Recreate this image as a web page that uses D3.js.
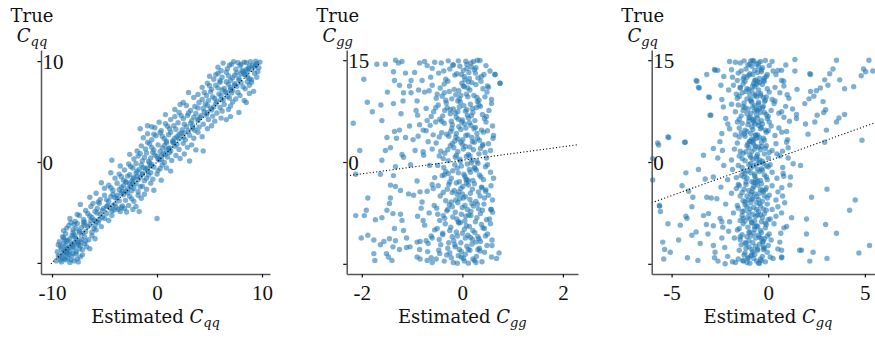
<!DOCTYPE html>
<html>
<head>
<meta charset="utf-8">
<title>Estimated vs true coefficients</title>
<script src="https://cdn.jsdelivr.net/npm/d3@7"></script>
<style>
  body { margin: 0; background: #fff; }
</style>
</head>
<body>
<div id="container"></div>
<script>
// Estimated vs true C_qq: [estimated, true]
const qqPoints = [
  [-9.6,-9.8],[-9.1,-9.9],[-8.7,-9.7],[-8.3,-9.95],[-7.9,-9.8],[-7.6,-9.6],[-9.3,-9.4],[-8.9,-9.2],[-8.5,-9.5],[-8.1,-9.3],[-7.7,-9.1],[-7.3,-9.4],[-9.0,-9.0],[-8.6,-9.1],[-8.2,-9.7],[-9.4,-9.3],[-7.5,-9.9],[-8.0,-9.05],[-8.8,-9.6],[-7.1,-9.2],[-9.2,-9.7],[-8.4,-9.2],
  [-9.5,-8.9],[-9.1,-8.6],[-8.7,-8.3],[-8.3,-8.8],[-7.9,-8.5],[-7.5,-8.2],[-7.1,-8.7],[-6.7,-8.4],[-8.9,-8.1],[-8.5,-8.95],[-8.1,-8.1],[-7.7,-8.9],[-7.3,-8.3],[-9.2,-8.4],[-8.6,-8.6],[-8.0,-8.4],[-7.4,-8.6],[-6.9,-8.1],[-9.4,-8.2],[-8.8,-8.75],[-8.2,-8.25],[-7.6,-8.05],[-6.4,-8.6],[-8.4,-8.5],
  [-9.3,-7.9],[-8.9,-7.5],[-8.5,-7.8],[-8.1,-7.3],[-7.7,-7.6],[-7.3,-7.9],[-6.9,-7.4],[-6.5,-7.7],[-8.7,-7.1],[-8.3,-7.6],[-7.9,-7.2],[-7.5,-7.95],[-7.1,-7.05],[-6.2,-7.3],[-9.0,-7.4],[-8.6,-7.85],[-7.8,-7.45],[-7.2,-7.65],[-6.8,-7.85],[-5.9,-7.6],[-8.0,-7.0],[-8.8,-7.7],
  [-8.9,-6.8],[-8.4,-6.3],[-8.0,-6.7],[-7.6,-6.1],[-7.2,-6.5],[-6.8,-6.9],[-6.4,-6.2],[-6.0,-6.6],[-5.6,-6.0],[-7.9,-6.2],[-7.4,-6.85],[-6.6,-6.4],[-6.2,-6.95],[-8.6,-6.55],[-7.0,-6.05],[-5.8,-6.75],[-8.2,-6.0],[-6.9,-6.3],[-5.3,-6.4],[-7.7,-6.6],
  [-8.3,-5.6],[-7.8,-5.9],[-7.4,-5.3],[-7.0,-5.7],[-6.6,-5.1],[-6.2,-5.5],[-5.8,-5.9],[-5.4,-5.2],[-5.0,-5.6],[-4.6,-5.8],[-6.9,-5.95],[-6.4,-5.35],[-5.7,-5.05],[-5.2,-5.45],[-4.3,-5.3],[-7.6,-5.2],[-6.0,-5.75],[-4.8,-5.1],[0.0,-5.6],[-5.5,-5.7],
  [-7.3,-4.2],[-6.8,-4.8],[-6.3,-4.4],[-5.9,-4.9],[-5.5,-4.1],[-5.1,-4.6],[-4.7,-4.3],[-4.3,-4.85],[-3.9,-4.5],[-3.5,-4.9],[-3.1,-4.6],[-2.7,-4.3],[-2.3,-4.7],[-4.0,-4.15],[-3.7,-4.7],[-3.3,-4.35],[-2.9,-4.95],[-4.5,-4.55],[-5.7,-4.6],[-6.1,-4.1],[-2.0,-4.4],[-3.4,-4.5],[-4.1,-4.75],[-1.7,-4.9],
  [-6.4,-3.5],[-5.8,-3.1],[-5.4,-3.7],[-5.0,-3.3],[-4.6,-3.9],[-4.2,-3.2],[-3.8,-3.6],[-3.4,-3.1],[-3.0,-3.8],[-2.6,-3.4],[-2.2,-3.9],[-1.8,-3.3],[-4.8,-3.75],[-4.4,-3.45],[-3.6,-3.85],[-3.2,-3.25],[-2.4,-3.65],[-5.6,-3.95],[-1.5,-3.6],[-2.8,-3.05],[-4.0,-3.55],[-1.2,-3.2],
  [-5.3,-2.05],[-5.0,-2.6],[-4.6,-2.3],[-4.2,-2.8],[-3.8,-2.1],[-3.4,-2.5],[-3.0,-2.9],[-2.6,-2.2],[-2.2,-2.6],[-1.8,-2.95],[-1.4,-2.4],[-1.0,-2.7],[-0.6,-2.1],[-3.6,-2.75],[-3.2,-2.35],[-2.8,-2.65],[-2.4,-2.85],[-2.0,-2.15],[-4.4,-2.55],[-1.6,-2.45],[-0.3,-2.8],[-2.5,-2.4],
  [-4.4,-1.06],[-4.0,-1.6],[-3.6,-1.2],[-3.2,-1.8],[-2.8,-1.4],[-2.4,-1.9],[-2.0,-1.1],[-1.6,-1.5],[-1.2,-1.85],[-0.8,-1.3],[-0.4,-1.7],[0.0,-1.2],[-3.0,-1.95],[-2.6,-1.25],[-2.2,-1.55],[-1.8,-1.75],[-1.4,-1.15],[-1.0,-1.6],[0.4,-1.8],[-3.4,-1.45],[-0.6,-1.05],[-2.3,-1.65],
  [-3.5,-0.4],[-3.1,-0.8],[-2.7,-0.2],[-2.3,-0.6],[-1.9,-0.9],[-1.5,-0.3],[-1.1,-0.7],[-0.7,-0.1],[-0.3,-0.5],[0.1,-0.85],[0.5,-0.3],[0.9,-0.6],[-2.5,-0.45],[-2.0,-0.15],[-1.3,-0.55],[-0.9,-0.95],[-0.5,-0.25],[0.3,-0.65],[1.3,-0.9],[-4.3,0.17],[-1.7,-0.75],[0.7,-0.05],
  [-2.6,0.76],[-2.2,0.3],[-1.8,0.6],[-1.4,0.1],[-1.0,0.9],[-0.6,0.4],[-0.2,0.7],[0.2,0.2],[0.6,0.85],[1.0,0.5],[1.4,0.15],[1.8,0.65],[2.2,0.35],[3.1,0.1],[-1.2,0.45],[-0.8,0.05],[-0.4,0.95],[0.0,0.55],[0.4,0.25],[0.8,0.75],[1.2,0.95],[2.6,0.8],[-1.6,0.85],
  [-1.9,1.1],[-1.5,1.6],[-1.1,1.3],[-0.7,1.8],[-0.3,1.2],[0.1,1.7],[0.5,1.4],[0.9,1.9],[1.3,1.1],[1.7,1.55],[2.1,1.25],[2.5,1.85],[2.9,1.45],[3.3,1.7],[4.4,1.1],[-0.9,1.95],[-0.5,1.45],[0.3,1.05],[0.7,1.65],[1.1,1.35],[1.5,1.95],[1.9,1.75],[3.7,1.2],
  [-1.3,2.4],[-0.9,2.8],[-0.5,2.2],[-0.1,2.6],[0.3,2.9],[0.7,2.3],[1.1,2.7],[1.5,2.1],[1.9,2.5],[2.3,2.85],[2.7,2.2],[3.1,2.65],[3.5,2.35],[3.9,2.95],[4.3,2.5],[0.5,2.55],[0.9,2.05],[1.3,2.95],[1.7,2.35],[2.1,2.75],[2.5,2.45],[-0.3,2.75],
  [-1.6,3.3],[-0.9,3.6],[-0.2,3.4],[0.4,3.1],[0.8,3.8],[1.2,3.3],[1.6,3.6],[2.0,3.9],[2.4,3.2],[2.8,3.5],[3.2,3.85],[3.6,3.15],[4.0,3.45],[4.4,3.75],[4.8,3.3],[5.2,3.6],[1.0,3.55],[1.8,3.25],[2.6,3.75],[3.4,3.35],[0.2,3.95],[-0.5,3.5],
  [1.3,4.2],[0.8,4.7],[1.7,4.5],[2.1,4.9],[2.5,4.3],[2.9,4.6],[3.3,4.1],[3.7,4.8],[4.1,4.4],[4.5,4.95],[4.9,4.2],[5.3,4.55],[5.7,4.85],[6.1,4.35],[6.6,4.2],[7.0,4.5],[3.0,4.85],[3.9,4.25],[4.7,4.65],[2.3,4.6],[3.5,4.45],[5.5,4.05],
  [1.7,5.2],[2.2,5.7],[2.8,5.6],[3.2,5.1],[3.6,5.5],[4.0,5.9],[4.4,5.3],[4.8,5.6],[5.2,5.15],[5.6,5.8],[6.0,5.4],[6.4,5.7],[6.8,5.2],[7.2,5.95],[7.8,4.9],[8.5,5.9],[3.9,5.35],[4.6,5.75],[5.4,5.45],[6.2,5.05],[2.5,5.9],[7.0,5.55],
  [3.5,6.4],[3.0,6.9],[3.9,6.7],[4.3,6.2],[4.7,6.6],[5.1,6.95],[5.5,6.3],[5.9,6.75],[6.3,6.15],[6.7,6.5],[7.1,6.85],[7.5,6.25],[7.9,6.6],[8.3,6.1],[8.8,6.8],[4.5,6.9],[5.3,6.45],[6.1,6.6],[6.9,6.35],[7.7,6.9],[4.9,6.1],[6.5,6.95],
  [4.3,7.4],[4.8,7.8],[5.2,7.2],[5.6,7.6],[6.0,7.9],[6.4,7.3],[6.8,7.7],[7.2,7.1],[7.6,7.5],[8.0,7.85],[8.4,7.25],[8.8,7.6],[9.2,7.0],[5.8,7.35],[6.6,7.95],[7.4,7.75],[8.2,7.45],[5.0,7.55],[9.0,7.9],[7.0,7.4],[6.2,7.15],[8.6,7.95],
  [5.0,8.5],[5.4,8.2],[5.8,8.8],[6.2,8.4],[6.6,8.9],[7.0,8.1],[7.4,8.6],[7.8,8.3],[8.2,8.95],[8.6,8.45],[9.0,8.15],[9.5,8.4],[9.3,8.8],[6.8,8.55],[7.6,8.85],[8.4,8.65],[6.0,8.05],[7.2,8.35],[8.0,8.75],[8.8,8.25],[5.6,8.65],[9.6,8.95],
  [5.8,9.4],[6.3,9.8],[7.1,9.7],[7.5,9.2],[7.9,9.55],[8.3,9.9],[8.5,9.85],[8.7,9.3],[9.1,9.6],[9.5,9.75],[9.8,9.9],[6.7,9.25],[7.3,9.95],[8.1,9.1],[8.9,9.95],[9.3,9.45],[6.9,9.6],[7.7,9.85],[8.5,9.15],[9.7,9.35],[6.1,9.05],[8.0,9.7],[8.8,9.5],[9.4,9.98],
  [-8.7,-8.9],[-7.9,-8.0],[-6.3,-5.8],[-5.2,-4.8],[-4.2,-4.3],[-3.3,-2.9],[-2.3,-2.1],[-1.4,-1.2],[-0.6,-0.4],[0.4,0.6],[1.2,1.4],[2.1,2.3],[3.0,3.1],[3.9,4.1],[4.8,4.9],[5.7,6.0],[6.6,6.9],[7.4,7.6],[8.3,8.7],[9.0,9.2],
  [-9.0,-9.5],[-7.4,-7.0],[-5.9,-6.3],[-4.8,-4.4],[-3.8,-3.3],[-2.9,-2.0],[-1.9,-1.4],[-0.9,-0.6],[0.1,0.3],[0.9,1.2],[1.6,1.9],[2.6,2.9],[3.4,3.6],[4.2,4.6],[5.1,5.3],[6.1,6.2],[7.0,7.2],[7.8,8.1],[8.6,9.0],[9.4,9.6]
];

// Estimated vs true C_gg: [estimated, true]
const ggPoints = [
  [-0.42,14.6],[0.13,13.2],[-0.08,14.9],[0.31,12.4],[-0.25,13.7],[0.05,12.1],[0.47,14.2],[-0.15,12.8],[0.22,14.8],[-0.55,14.7],[0.02,13.5],[0.38,12.6],[-0.33,12.2],[0.18,14.0],[-0.02,12.9],[0.27,13.9],[-0.47,13.1],[0.09,14.4],[0.55,13.4],[-0.19,14.3],[0.35,14.95],[-0.11,13.0],[0.14,12.3],[-0.63,12.5],[0.24,13.6],[-0.05,14.1],[0.43,12.9],[-0.28,14.9],[0.07,14.85],[0.65,12.9],[-0.37,13.4],[0.17,14.6],[-0.75,14.8],[-0.85,14.6],[0.3,15.0],[-0.6,13.8],
  [0.19,11.7],[-0.36,10.2],[0.04,11.1],[-0.52,9.4],[0.41,10.8],[-0.13,9.9],[0.27,11.4],[-0.07,10.5],[0.58,9.2],[-0.29,11.9],[0.11,9.6],[-0.44,10.9],[0.33,9.1],[-0.01,11.6],[0.49,10.3],[-0.21,9.3],[0.08,10.0],[-0.6,11.3],[0.23,9.8],[-0.16,10.7],[0.37,11.9],[-0.09,9.0],[0.15,10.6],[-0.4,9.7],[0.02,11.2],[0.52,11.0],[-0.26,10.4],[0.29,9.5],[-0.03,9.8],[0.45,9.6],[-0.5,10.0],[0.12,11.8],[0.75,11.6],
  [-0.32,8.7],[0.21,7.3],[-0.06,8.1],[0.44,6.4],[-0.18,7.8],[0.1,6.9],[-0.48,8.4],[0.3,8.9],[0.0,6.2],[-0.24,7.1],[0.53,7.6],[-0.12,6.6],[0.16,8.5],[-0.39,6.8],[0.06,7.5],[0.36,8.2],[-0.57,7.4],[0.25,6.1],[-0.04,8.8],[0.12,6.5],[-0.3,8.0],[0.48,6.7],[-0.14,7.2],[0.2,7.9],[-0.45,6.3],[0.03,8.3],[0.4,7.0],[-0.22,6.0],[0.09,7.7],[-0.08,6.3],[0.58,8.6],[-0.35,7.6],[0.28,8.0],
  [0.14,5.8],[-0.41,4.3],[0.26,5.1],[-0.09,3.4],[0.5,4.6],[-0.2,5.5],[0.07,3.9],[-0.53,5.9],[0.34,3.2],[-0.03,4.8],[0.19,3.6],[-0.31,4.1],[0.6,5.3],[-0.15,3.1],[0.04,5.6],[0.42,4.4],[-0.46,3.7],[0.23,4.9],[-0.07,5.2],[0.11,4.0],[-0.36,5.7],[0.3,3.5],[-0.23,4.5],[0.01,3.3],[0.47,5.9],[-0.12,4.2],[0.17,5.4],[-0.58,4.0],[0.38,4.7],[-0.01,5.9],[0.62,3.9],[-0.27,3.8],
  [-0.2,2.7],[0.33,1.2],[-0.05,0.4],[0.15,2.2],[-0.43,1.6],[0.48,0.6],[0.02,1.9],[-0.28,0.2],[0.24,2.9],[-0.12,1.0],[0.4,2.4],[-0.52,2.8],[0.08,0.8],[-0.17,2.1],[0.29,0.1],[-0.35,1.3],[0.56,1.7],[0.0,2.6],[-0.09,1.5],[0.19,0.3],[-0.46,0.9],[0.36,2.0],[-0.24,2.4],[0.12,1.1],[-0.03,2.95],[0.45,1.4],[-0.38,0.5],[0.22,1.8],[-0.14,0.7],[0.06,2.3],[0.52,2.7],[-0.6,1.9],
  [0.1,-0.3],[-0.33,-1.4],[0.37,-2.2],[-0.1,-0.9],[0.21,-2.7],[-0.49,-0.5],[0.03,-1.8],[0.46,-0.7],[-0.22,-2.4],[0.14,-1.1],[-0.06,-2.9],[0.31,-0.2],[-0.4,-2.0],[0.56,-1.5],[-0.15,-0.4],[0.07,-2.5],[-0.28,-1.7],[0.25,-1.0],[-0.02,-0.6],[0.42,-2.6],[-0.55,-2.3],[0.18,-0.1],[-0.19,-1.3],[0.05,-2.1],[0.34,-1.9],[-0.37,-0.8],[0.12,-2.8],[-0.08,-1.6],[0.5,-0.4],[-0.25,-2.95],[0.62,-2.4],[0.28,-1.2],
  [-0.27,-3.3],[0.16,-4.6],[-0.05,-5.4],[0.39,-3.8],[-0.44,-5.0],[0.08,-3.1],[0.27,-5.8],[-0.16,-4.2],[0.52,-4.9],[-0.33,-5.7],[0.01,-3.6],[0.2,-4.0],[-0.58,-3.9],[0.44,-5.3],[-0.1,-4.8],[0.12,-3.4],[-0.22,-5.9],[0.32,-4.4],[-0.03,-3.9],[0.57,-3.5],[-0.38,-4.5],[0.06,-5.1],[0.24,-3.2],[-0.13,-5.6],[0.47,-4.1],[-0.48,-3.5],[0.15,-5.5],[-0.07,-4.4],[0.35,-5.0],[-0.3,-4.0],[0.6,-5.6],[0.0,-4.7],
  [0.22,-6.5],[-0.38,-7.9],[0.05,-8.7],[0.43,-6.2],[-0.14,-7.4],[0.29,-8.2],[-0.51,-6.8],[0.1,-7.0],[-0.04,-8.9],[0.36,-7.6],[-0.26,-6.3],[0.54,-8.4],[0.0,-6.7],[-0.19,-8.1],[0.17,-7.3],[-0.45,-8.6],[0.4,-7.1],[-0.09,-6.0],[0.26,-8.8],[-0.31,-7.2],[0.07,-8.0],[0.57,-7.0],[-0.2,-6.6],[0.13,-7.8],[-0.56,-6.4],[0.32,-6.9],[-0.02,-7.7],[0.48,-8.5],[-0.35,-8.3],[0.19,-6.1],[0.6,-7.4],[-0.11,-8.4],
  [-0.23,-9.6],[0.11,-10.8],[0.38,-9.2],[-0.46,-11.4],[0.04,-9.9],[0.27,-11.8],[-0.12,-10.3],[0.5,-10.6],[-0.34,-9.1],[0.16,-11.1],[-0.03,-11.9],[0.41,-9.7],[-0.55,-10.0],[0.21,-10.1],[-0.17,-11.6],[0.08,-9.4],[0.33,-11.3],[-0.39,-10.7],[0.0,-10.5],[0.59,-11.5],[-0.27,-11.9],[0.14,-9.5],[-0.07,-9.0],[0.46,-10.9],[-0.5,-9.8],[0.25,-10.4],[-0.2,-11.0],[0.36,-11.7],[0.06,-11.2],[-0.6,-11.2],[0.56,-9.1],[-0.1,-10.9],
  [0.09,-12.4],[-0.31,-13.7],[0.24,-14.5],[-0.06,-12.9],[0.44,-13.3],[-0.18,-14.8],[0.15,-13.0],[-0.43,-12.2],[0.02,-14.2],[0.34,-12.7],[-0.25,-13.4],[0.58,-14.0],[-0.1,-14.9],[0.19,-12.1],[-0.52,-14.3],[0.06,-13.6],[0.39,-14.7],[-0.14,-12.5],[0.28,-13.9],[-0.36,-14.6],[-0.02,-13.2],[0.49,-12.3],[-0.22,-14.1],[0.12,-14.9],[-0.47,-13.0],[0.31,-12.9],[-0.08,-13.8],[0.21,-14.3],[-0.29,-12.7],[0.04,-14.6],[0.68,-14.2],[-0.6,-14.8],
  [-0.18,14.3],[0.26,13.1],[0.04,12.6],[-0.36,11.5],[0.11,10.9],[-0.06,9.3],[0.33,8.4],[-0.24,7.7],[0.18,6.8],[-0.41,6.0],[0.07,5.0],[0.29,4.2],[-0.13,3.7],[0.41,2.6],[-0.29,1.8],[0.15,0.9],[-0.04,0.1],[0.24,-0.8],[-0.36,-1.9],[0.09,-2.6],[0.38,-3.7],[-0.2,-4.5],[0.02,-5.3],[0.3,-6.2],[-0.29,-7.0],[0.17,-7.9],[-0.08,-8.8],[0.44,-9.8],[-0.39,-10.5],[0.2,-11.4],[-0.15,-12.2],[0.35,-13.1],[-0.02,-14.0],[0.27,-14.8],[-0.45,-13.5],[0.12,-12.9],[-0.25,-10.1],[0.05,-6.4],[-0.12,-3.1],[0.2,3.0],[-0.33,9.1],[0.09,13.8],[0.5,11.2],[-0.53,8.0],[0.46,-4.3],[-0.49,-7.7],[0.31,-11.0],[-0.09,7.4],[0.16,-1.5],[-0.21,4.9],
  [-0.7,14.2],[-0.8,12.0],[-0.66,10.5],[-0.9,9.0],[-0.72,7.9],[-0.62,6.7],[-0.85,5.5],[-0.68,3.0],[-0.78,1.5],[-0.65,-0.5],[-0.9,-2.8],[-0.7,-4.3],[-0.8,-5.9],[-0.66,-7.5],[-0.75,-9.3],[-0.62,-10.9],[-0.85,-12.9],[-0.7,-14.5],[-0.95,13.2],[-0.72,4.6],[-0.6,-3.3],[-0.82,-6.8],[-0.68,-12.0],[-0.9,-14.0],
  [0.75,11.6],[0.65,12.9],[0.61,3.5],[0.73,-13.4],[0.57,-7.0],[0.59,-12.3],
  [-1.70,14.4],[-1.53,14.4],[-1.33,15.0],[-1.27,14.6],[-1.2,14.8],[-1.37,13.3],[-1.13,13.1],[-1.96,12.2],[-1.35,12.0],[-1.02,12.0],[-1.05,11.2],[-1.25,11.3],[-1.49,10.3],[-1.17,10.2],[-1.02,10.2],[-0.87,10.6],[-0.75,10.3],[-1.89,8.8],[-1.62,8.4],[-1.37,8.6],[-1.18,9.0],[-1.79,7.4],[-1.60,6.1],[-1.22,7.1],[-0.92,7.6],[-0.89,6.9],[-2.17,5.7],[-1.35,4.5],[-1.25,4.7],[-1.05,5.3],[-1.13,3.6],[-1.31,3.5],[-1.50,3.6],[-0.98,3.3],[-1.43,2.1],[-1.53,1.7],[-1.20,1.1],[-1.17,0.7],[-1.60,0.25],[-2.04,1.7],[-0.94,1.7],[-0.77,1.0],[-0.88,3.8],[-0.78,4.7],[-0.64,5.4],[-0.7,6.1],
  [-2.12,-1.8],[-1.63,-1.8],[-1.37,-2.0],[-1.33,-0.7],[-1.03,-0.4],[-1.43,-3.4],[-1.33,-3.6],[-1.23,-4.2],[-1.88,-5.3],[-1.43,-5.3],[-1.45,-6.1],[-1.50,-7.1],[-1.07,-4.7],[-0.97,-4.9],[-0.84,-4.4],[-2.12,-7.9],[-1.91,-7.1],[-1.95,-7.9],[-1.73,-8.5],[-1.60,-8.2],[-1.38,-7.6],[-1.23,-7.7],[-1.20,-8.6],[-0.89,-8.0],[-0.78,-8.6],[-1.35,-9.8],[-1.17,-10.1],[-2.01,-11.2],[-1.88,-10.8],[-1.76,-11.5],[-1.56,-11.7],[-1.45,-11.3],[-1.33,-11.6],[-1.11,-11.2],[-1.04,-12.5],[-0.90,-11.8],[-0.84,-11.7],[-0.72,-11.6],[-1.76,-13.5],[-1.63,-12.2],[-1.51,-13.5],[-1.47,-14.0],[-1.40,-14.5],[-1.74,-14.5],[-1.25,-12.9],[-1.11,-12.6],[-0.84,-14.3],[-0.69,-13.2],[-0.62,-14.1],[-1.38,-12.5]
];

// Estimated vs true C_gq: [estimated, true]
const gqPoints = [
  [-1.45,14.6],[-0.55,13.2],[-0.9,14.9],[-0.2,12.4],[-1.15,13.7],[-0.65,12.1],[0.05,14.2],[-1.0,12.8],[-0.4,14.8],[-1.7,14.7],[-0.7,13.5],[-0.1,12.6],[-1.3,12.2],[-0.5,14.0],[-0.8,12.9],[-0.3,13.9],[-1.55,13.1],[-0.6,14.4],[0.25,13.4],[-1.05,14.3],[-0.15,14.95],[-0.95,13.0],[-0.45,12.3],[-1.85,12.5],[-0.35,13.6],[-0.85,14.1],[-0.05,12.9],[-1.25,14.9],[-0.75,14.85],[0.4,12.9],[-1.4,13.4],[-0.5,14.6],[-2.0,14.8],[-1.9,13.6],[0.2,14.8],[-1.6,12.0],[-1.1,12.5],[-0.25,12.0],
  [-0.45,11.7],[-1.35,10.2],[-0.7,11.1],[-1.6,9.4],[-0.05,10.8],[-0.95,9.9],[-0.3,11.4],[-0.85,10.5],[0.2,9.2],[-1.2,11.9],[-0.6,9.6],[-1.45,10.9],[-0.15,9.1],[-0.75,11.6],[0.05,10.3],[-1.1,9.3],[-0.65,10.0],[-1.8,11.3],[-0.4,9.8],[-1.0,10.7],[-0.2,11.9],[-0.9,9.0],[-0.5,10.6],[-1.5,9.7],[-0.8,11.2],[0.35,11.0],[-1.15,10.4],[-0.25,9.5],[-0.7,9.8],[-0.1,9.6],[-1.65,10.0],[-0.55,11.8],[0.6,10.2],[-2.05,10.6],[-1.3,11.5],
  [-1.25,8.7],[-0.4,7.3],[-0.8,8.1],[-0.05,6.4],[-1.05,7.8],[-0.6,6.9],[-1.55,8.4],[-0.2,8.9],[-0.75,6.2],[-1.1,7.1],[0.15,7.6],[-0.95,6.6],[-0.5,8.5],[-1.4,6.8],[-0.7,7.5],[-0.25,8.2],[-1.7,7.4],[-0.35,6.1],[-0.85,8.8],[-0.55,6.5],[-1.2,8.0],[0.0,6.7],[-0.9,7.2],[-0.45,7.9],[-1.5,6.3],[-0.7,8.3],[-0.1,7.0],[-1.0,6.0],[-0.6,7.7],[-0.8,6.3],[0.3,8.6],[-1.3,7.6],[-0.3,8.0],[-1.9,8.5],[0.55,7.2],
  [-0.5,5.8],[-1.4,4.3],[-0.35,5.1],[-0.85,3.4],[0.0,4.6],[-1.05,5.5],[-0.65,3.9],[-1.6,5.9],[-0.2,3.2],[-0.8,4.8],[-0.45,3.6],[-1.25,4.1],[0.15,5.3],[-0.95,3.1],[-0.7,5.6],[-0.1,4.4],[-1.5,3.7],[-0.4,4.9],[-0.85,5.2],[-0.55,4.0],[-1.35,5.7],[-0.25,3.5],[-1.1,4.5],[-0.75,3.3],[0.05,5.9],[-0.9,4.2],[-0.5,5.4],[-1.7,4.0],[-0.15,4.7],[-0.75,5.9],[0.35,3.9],[-1.2,3.8],[-2.0,4.9],[0.7,4.4],
  [-1.05,2.7],[-0.2,1.2],[-0.8,0.4],[-0.5,2.2],[-1.45,1.6],[0.0,0.6],[-0.7,1.9],[-1.2,0.2],[-0.35,2.9],[-0.95,1.0],[-0.1,2.4],[-1.6,2.8],[-0.6,0.8],[-1.0,2.1],[-0.3,0.1],[-1.3,1.3],[0.2,1.7],[-0.75,2.6],[-0.85,1.5],[-0.45,0.3],[-1.5,0.9],[-0.15,2.0],[-1.1,2.4],[-0.55,1.1],[-0.8,2.95],[0.05,1.4],[-1.35,0.5],[-0.4,1.8],[-0.9,0.7],[-0.65,2.3],[0.4,2.7],[-1.75,1.9],[-1.9,0.3],[0.6,0.9],
  [-0.6,-0.3],[-1.3,-1.4],[-0.1,-2.2],[-0.9,-0.9],[-0.4,-2.7],[-1.55,-0.5],[-0.7,-1.8],[0.0,-0.7],[-1.1,-2.4],[-0.55,-1.1],[-0.85,-2.9],[-0.25,-0.2],[-1.4,-2.0],[0.2,-1.5],[-1.0,-0.4],[-0.65,-2.5],[-1.2,-1.7],[-0.35,-1.0],[-0.75,-0.6],[-0.05,-2.6],[-1.65,-2.3],[-0.45,-0.1],[-1.05,-1.3],[-0.7,-2.1],[-0.2,-1.9],[-1.35,-0.8],[-0.55,-2.8],[-0.9,-1.6],[0.1,-0.4],[-1.15,-2.95],[0.45,-2.4],[-0.3,-1.2],[-1.85,-1.1],[-2.1,-2.6],
  [-1.15,-3.3],[-0.45,-4.6],[-0.8,-5.4],[-0.1,-3.8],[-1.45,-5.0],[-0.65,-3.1],[-0.3,-5.8],[-1.0,-4.2],[0.05,-4.9],[-1.3,-5.7],[-0.75,-3.6],[-0.4,-4.0],[-1.65,-3.9],[-0.05,-5.3],[-0.9,-4.8],[-0.55,-3.4],[-1.2,-5.9],[-0.25,-4.4],[-0.8,-3.9],[0.2,-3.5],[-1.35,-4.5],[-0.6,-5.1],[-0.35,-3.2],[-1.05,-5.6],[-0.15,-4.1],[-1.5,-3.5],[-0.5,-5.5],[-0.85,-4.4],[-0.2,-5.0],[-1.25,-4.0],[0.4,-5.6],[-0.7,-4.7],[-1.9,-4.6],[0.7,-3.8],
  [-0.4,-6.5],[-1.35,-7.9],[-0.7,-8.7],[-0.05,-6.2],[-1.0,-7.4],[-0.3,-8.2],[-1.55,-6.8],[-0.6,-7.0],[-0.85,-8.9],[-0.2,-7.6],[-1.2,-6.3],[0.1,-8.4],[-0.75,-6.7],[-1.05,-8.1],[-0.5,-7.3],[-1.45,-8.6],[-0.1,-7.1],[-0.9,-6.0],[-0.35,-8.8],[-1.25,-7.2],[-0.65,-8.0],[0.2,-7.0],[-1.1,-6.6],[-0.55,-7.8],[-1.6,-6.4],[-0.25,-6.9],[-0.8,-7.7],[0.0,-8.5],[-1.3,-8.3],[-0.45,-6.1],[-1.8,-7.5],[-0.95,-8.4],[0.5,-6.6],[-2.0,-8.8],
  [-1.05,-9.6],[-0.5,-10.8],[-0.1,-9.2],[-1.45,-11.4],[-0.7,-9.9],[-0.3,-11.8],[-0.95,-10.3],[0.05,-10.6],[-1.3,-9.1],[-0.45,-11.1],[-0.8,-11.9],[-0.15,-9.7],[-1.6,-10.0],[-0.4,-10.1],[-1.0,-11.6],[-0.6,-9.4],[-0.2,-11.3],[-1.35,-10.7],[-0.75,-10.5],[0.15,-11.5],[-1.2,-11.9],[-0.55,-9.5],[-0.85,-9.0],[-0.05,-10.9],[-1.5,-9.8],[-0.35,-10.4],[-1.1,-11.0],[-0.25,-11.7],[-0.65,-11.2],[-1.75,-11.2],[0.3,-9.1],[-0.9,-10.9],[-2.05,-10.2],[0.6,-11.8],
  [-0.65,-12.4],[-1.25,-13.7],[-0.35,-14.5],[-0.85,-12.9],[-0.05,-13.3],[-1.1,-14.8],[-0.55,-13.0],[-1.4,-12.2],[-0.75,-14.2],[-0.2,-12.7],[-1.2,-13.4],[0.1,-14.0],[-0.95,-14.9],[-0.45,-12.1],[-1.55,-14.3],[-0.7,-13.6],[-0.15,-14.7],[-1.0,-12.5],[-0.3,-13.9],[-1.3,-14.6],[-0.8,-13.2],[0.0,-12.3],[-1.05,-14.1],[-0.5,-14.9],[-1.5,-13.0],[-0.25,-12.9],[-0.9,-13.8],[-0.4,-14.3],[-1.15,-12.7],[-0.6,-14.6],[0.25,-14.2],[-1.7,-14.8],[-1.85,-14.7],[-2.1,-13.9],
  [-0.95,14.4],[-0.35,13.3],[-1.25,12.6],[-0.6,11.4],[-1.1,10.8],[-0.4,10.1],[-0.9,9.2],[-1.3,8.2],[-0.55,7.6],[-1.0,6.5],[-0.3,5.6],[-1.2,4.7],[-0.65,4.0],[-0.95,3.0],[-0.35,2.3],[-1.15,1.5],[-0.6,0.5],[-0.9,-0.2],[-0.45,-1.4],[-1.25,-2.2],[-0.75,-3.0],[-0.3,-4.2],[-1.1,-5.0],[-0.6,-6.0],[-0.95,-6.9],[-0.4,-7.8],[-1.2,-8.7],[-0.7,-9.5],[-1.0,-10.4],[-0.35,-11.3],[-1.15,-12.0],[-0.55,-12.8],[-0.85,-13.7],[-1.3,-14.5],[-0.45,-14.9],[-0.7,12.0],[-1.45,11.0],[-0.2,7.3],[-1.5,5.0],[-0.1,-0.6],[-1.55,-3.3],[-0.15,-9.0],[-1.45,-11.0],[-0.8,14.95],[-1.05,-14.2],[-0.6,3.5],[-0.85,-5.5],[-0.5,8.8],[-1.35,-7.3],[-0.25,-12.5],
  [0.5,13.5],[0.8,11.9],[0.35,9.0],[0.9,8.2],[0.55,5.0],[1.0,3.3],[0.45,1.2],[0.75,-0.8],[1.15,-2.2],[0.5,-4.4],[0.85,-6.0],[0.4,-8.0],[0.95,-9.5],[0.5,-12.8],[0.7,-14.0],[1.1,6.0],[0.65,-10.5],
  [-2.3,12.6],[-2.4,9.2],[-2.2,6.4],[-2.5,3.0],[-2.3,-0.5],[-2.45,-3.7],[-2.2,-6.2],[-2.35,-9.6],[-2.25,-12.6],[-2.6,-14.6],
  [1.38,15.1],[0.91,14.3],[0.69,13.5],[1.38,13.4],[3.53,15.0],[3.35,13.7],[3.18,13.0],[2.92,12.1],[3.70,12.1],[2.19,12.9],[5.21,15.0],[4.93,13.7],[5.04,13.3],[4.81,12.7],[5.41,13.4],[3.09,11.3],[2.70,10.9],[2.49,10.5],[2.19,10.4],[2.36,9.7],[2.11,9.3],[1.89,8.6],[2.84,8.9],[3.95,10.8],[4.42,11.1],[1.49,10.7],[0.81,11.2],[0.98,9.9],[1.07,9.4],[0.69,12.0],[1.26,7.8],[1.46,7.0],[1.46,6.4],[2.53,6.9],[2.97,7.7],[2.87,7.3],[3.66,6.5],[3.95,7.0],[3.53,5.9],[2.41,5.9],[1.93,5.6],[2.06,4.1],[3.01,4.7],[2.92,2.9],[4.85,3.2],[0.69,7.4],[0.81,6.6],[0.95,4.5],[0.95,2.9],[0.74,1.6],[1.03,2.1],[1.03,0.6],[1.29,-0.25],[1.67,-0.5],[0.77,-1.7],[0.8,-2.1],[1.12,-3.4],[3.04,-4.0],[2.24,-5.2],[0.74,-5.0],[4.5,-5.6],[4.21,-7.1],[0.69,-7.5],[1.21,-8.2],[1.98,-8.4],[2.97,-9.2],[0.81,-9.7],[3.53,-10.5],[1.98,-10.6],[5.24,-12.3],[4.69,-13.4],[1.63,-13.0],[1.72,-13.0],[2.32,-13.3],[2.15,-14.6],[3.04,-14.2],[0.69,-13.0],[0.69,-14.1],[2.15,13.0],
  [-2.78,13.65],[-2.61,13.5],[-3.18,12.9],[-3.73,12.0],[-3.61,11.0],[-2.45,11.3],[-3.09,9.6],[-2.97,6.9],[-4.33,2.9],[-5.15,3.6],[-5.72,2.8],[-5.98,0.5],[-5.98,-2.65],[-4.26,-1.6],[-3.61,-1.1],[-3.35,1.0],[-2.84,2.0],[-2.61,0.6],[-2.37,1.7],[-3.26,-2.5],[-2.84,-2.2],[-4.46,-3.5],[-4.12,-4.3],[-3.90,-5.2],[-3.18,-5.2],[-2.95,-5.3],[-2.66,-5.4],[-5.63,-6.4],[-5.58,-7.3],[-3.95,-6.6],[-3.35,-7.9],[-3.09,-7.6],[-4.26,-8.0],[-4.2,-8.3],[-2.49,-8.3],[-5.19,-9.1],[-4.55,-9.3],[-2.84,-9.4],[-2.40,-8.8],[-3.95,-10.8],[-3.73,-10.3],[-3.12,-10.6],[-4.64,-11.5],[-5.46,-11.8],[-2.84,-12.3],[-5.36,-12.9],[-5.07,-13.3],[-3.52,-12.0],[-2.75,-13.3],[-2.78,-14.1],[-4.18,-14.1],[-3.64,-14.5],[-5.41,-14.3],[-2.23,-15.0],[-2.4,-11.2],[-3.2,-9.2],[-2.40,4.2],[-2.32,8.1],[-2.09,5.6],[-5.67,2.5],[-5.19,3.7],[-5.62,-6.5],[-4.29,2.9],[-3.69,11.9],[-3.57,10.9],[-2.75,13.5],[-3.04,9.5],[-3.01,6.9]
];

// Axis ticks and labels
const qqXTicks = [-10, 0, 10];
const qqYTicks = [-10, 0, 10];
const qqYTickLabels = ["", "0", "10"];
const ggXTicks = [-2, 0, 2];
const ggYTicks = [-15, 0, 15];
const ggYTickLabels = ["", "0", "15"];
const gqXTicks = [-5, 0, 5];
const gqYTicks = [-15, 0, 15];
const gqYTickLabels = ["", "0", "15"];

// Dotted fit lines: slope, intercept, x extent
const fitSlopes = [1.0, 1.0, 1.02];
const fitIntercepts = [0.0, 0.25, 0.15];
const fitExtents = [[-10.1, 9.8], [-2.3, 2.3], [-6.03, 6.0]];

const subscripts = ["qq", "gg", "gq"];

// Layout of each panel (pixels) and axis limits
const panels = [
  { points: qqPoints, xTicks: qqXTicks, yTicks: qqYTicks, yLabels: qqYTickLabels,
    xDomain: [-11.05, 10.76], yDomain: [-11.1, 11.1], left: 41, right: 270 },
  { points: ggPoints, xTicks: ggXTicks, yTicks: ggYTicks, yLabels: ggYTickLabels,
    xDomain: [-2.3, 2.3], yDomain: [-16.5, 16.5], left: 346.7, right: 578 },
  { points: gqPoints, xTicks: gqXTicks, yTicks: gqYTicks, yLabels: gqYTickLabels,
    xDomain: [-6.03, 6.0], yDomain: [-16.5, 16.5], left: 651.7, right: 884.2 }
];

const width = 875;
const height = 338;
const plotTop = 50;
const plotBottom = 274;
const labelFont = "'DejaVu Serif', serif";
const tickFont = "'Liberation Serif', serif";

const svg = d3.create("svg")
    .attr("width", width)
    .attr("height", height)
    .style("background", "#fff");

panels.forEach((p, i) => {
  const x = d3.scaleLinear().domain(p.xDomain).range([p.left, p.right]);
  const y = d3.scaleLinear().domain(p.yDomain).range([plotBottom, plotTop]);
  const g = svg.append("g");

  // Scatter points
  g.append("g")
    .selectAll("circle")
    .data(p.points)
    .join("circle")
      .attr("cx", d => x(d[0]))
      .attr("cy", d => y(d[1]))
      .attr("r", 2.7)
      .attr("fill", "#1f77b4")
      .attr("fill-opacity", 0.58);

  // Dotted fit line
  const ext = fitExtents[i];
  g.append("line")
    .attr("x1", x(ext[0]))
    .attr("y1", y(fitSlopes[i] * ext[0] + fitIntercepts[i]))
    .attr("x2", x(ext[1]))
    .attr("y2", y(fitSlopes[i] * ext[1] + fitIntercepts[i]))
    .attr("stroke", "#000")
    .attr("stroke-width", 1.1)
    .attr("stroke-dasharray", "1.1,2.2");

  // X axis
  const xAxis = g.append("g")
    .attr("transform", `translate(0,${plotBottom})`)
    .call(d3.axisBottom(x).tickValues(p.xTicks).tickSize(3.5).tickSizeOuter(0).tickFormat(d => String(d)));
  xAxis.select(".domain").attr("stroke", "#555").attr("stroke-width", 1.5);
  xAxis.selectAll(".tick line").attr("stroke", "#111").attr("stroke-width", 1.2);
  xAxis.selectAll(".tick text")
    .attr("y", 26).attr("dy", 0)
    .style("font-family", tickFont).style("font-size", "21px").attr("fill", "#111");

  // Y axis (labels sit on the spine)
  const yAxis = g.append("g")
    .attr("transform", `translate(${p.left},0)`)
    .call(d3.axisLeft(y).tickValues(p.yTicks).tickSize(3.5).tickSizeOuter(0)
      .tickFormat((d, j) => p.yLabels[j]));
  yAxis.select(".domain").attr("stroke", "#555").attr("stroke-width", 1.5);
  yAxis.selectAll(".tick line").attr("stroke", "#111").attr("stroke-width", 1.2);
  yAxis.selectAll(".tick text")
    .attr("x", 1.5).attr("dy", "0.34em").attr("text-anchor", "start")
    .style("font-family", tickFont).style("font-size", "21px").attr("fill", "#111");

  // Y label: "True C_xx" above the spine
  const yl = p.left - 9;
  g.append("text")
    .attr("x", yl).attr("y", 21.5)
    .attr("text-anchor", "middle")
    .style("font-family", labelFont).style("font-size", "18px").attr("fill", "#111")
    .text("True");
  const c = g.append("text")
    .attr("x", yl).attr("y", 42)
    .attr("text-anchor", "middle")
    .style("font-family", labelFont).style("font-size", "18px").attr("fill", "#111");
  c.append("tspan").style("font-style", "italic").text("C");
  c.append("tspan").attr("dy", 4).style("font-style", "italic").style("font-size", "13px").text(subscripts[i]);

  // X label
  const xl = g.append("text")
    .attr("x", (p.left + p.right) / 2).attr("y", 323)
    .attr("text-anchor", "middle")
    .style("font-family", labelFont).style("font-size", "18px").attr("fill", "#111");
  xl.append("tspan").text("Estimated ");
  xl.append("tspan").style("font-style", "italic").text("C");
  xl.append("tspan").attr("dy", 4).style("font-style", "italic").style("font-size", "13px").text(subscripts[i]);
});

document.getElementById("container").append(svg.node());
</script>
</body>
</html>
